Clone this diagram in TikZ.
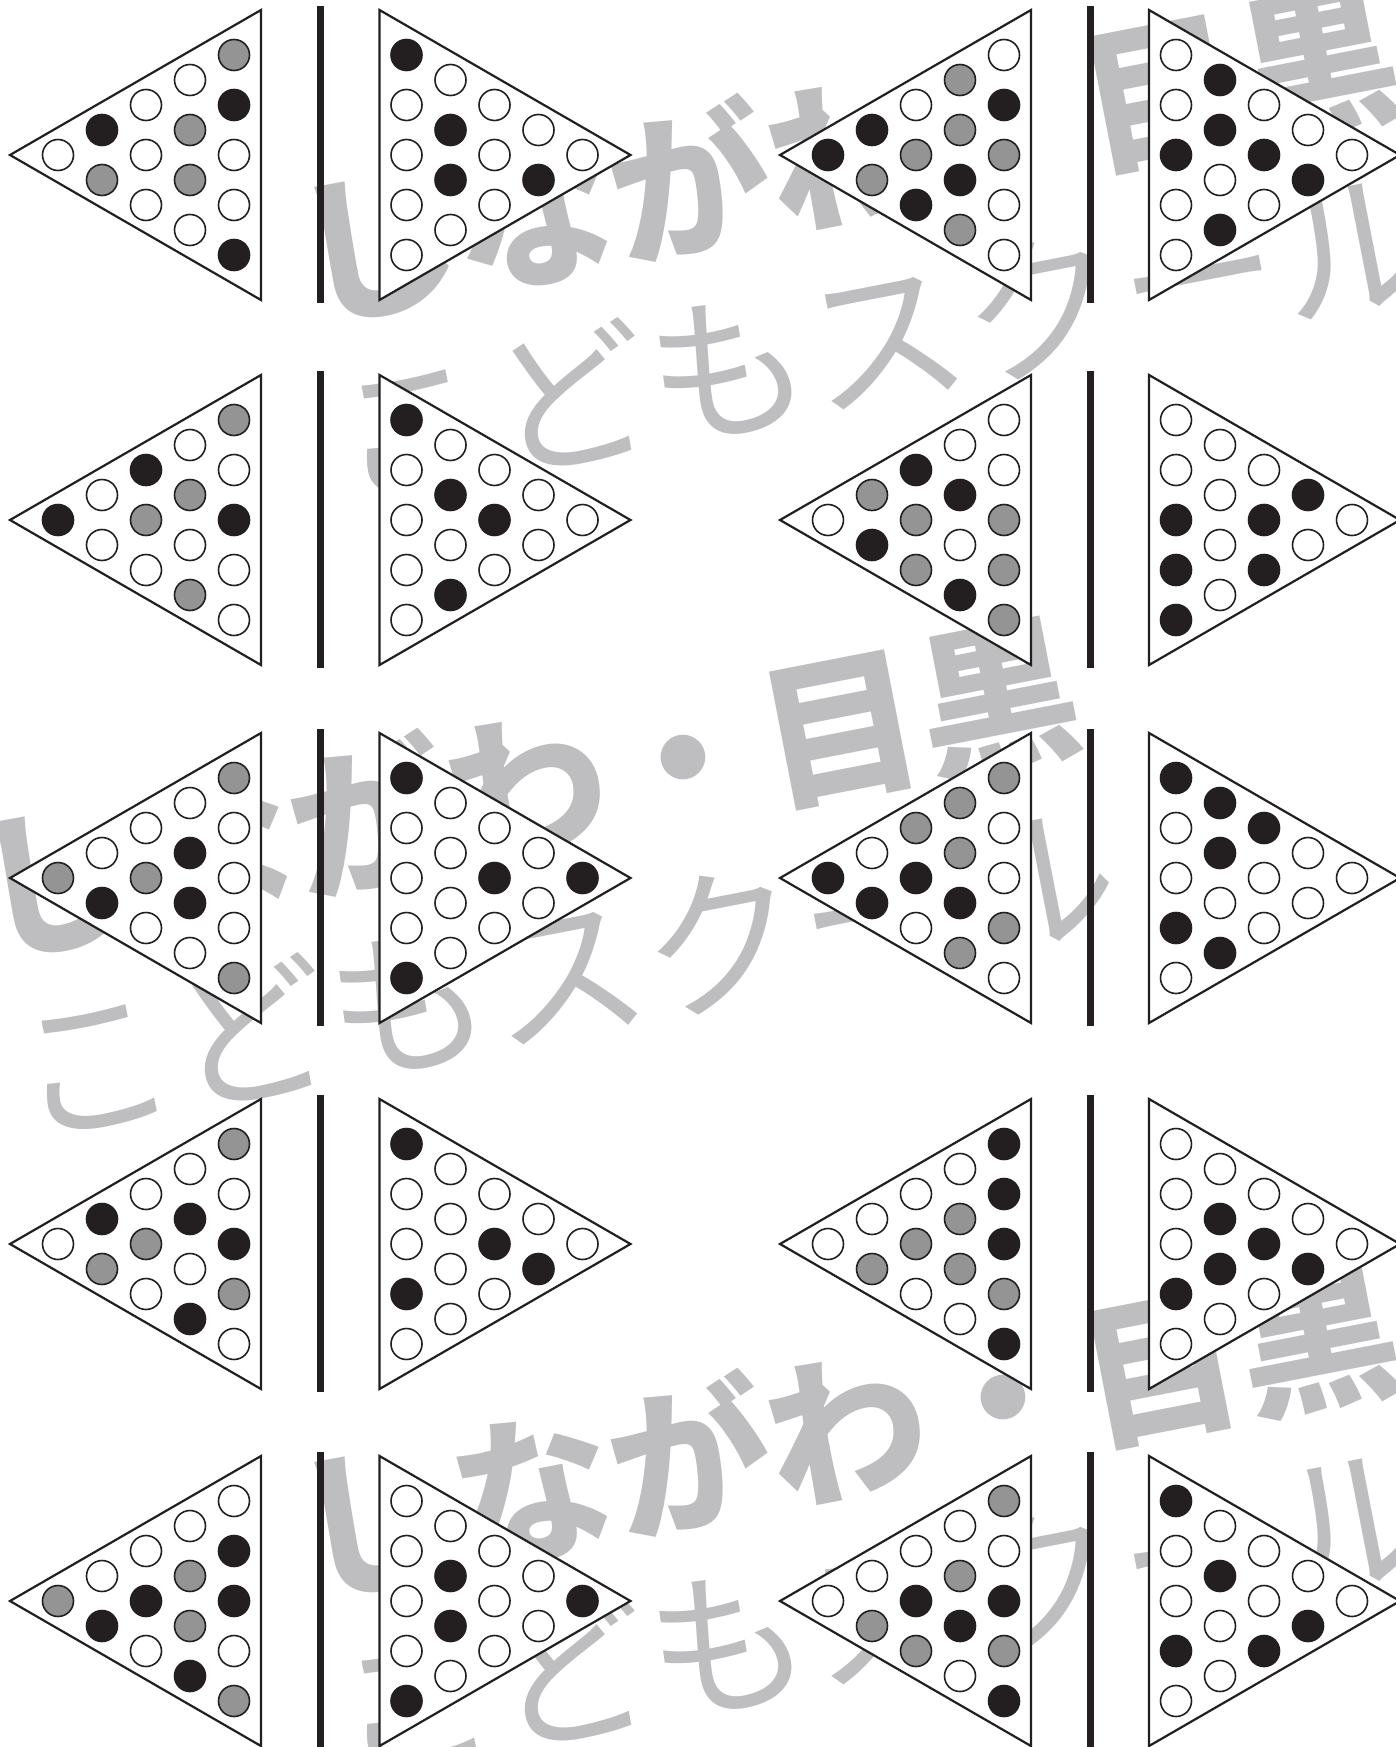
\documentclass[tikz,border=0pt]{standalone}
\usepackage{fontspec}
\newfontfamily\wmfont{Noto Sans CJK JP}
\definecolor{B}{HTML}{231F20}
\definecolor{G}{HTML}{949494}
\definecolor{W}{HTML}{FFFFFF}
\definecolor{wmgray}{HTML}{BEBEC0}

\newcommand{\dotcol}[4]{%
  \foreach \cc [count=\i] in {#4} {
    \path[dot, fill=\cc] ({#1}, {#2 + (2*\i - #3 - 1)*25}) circle[radius=15.5];
  }%
}
\newcommand{\lefttri}[7]{%
  \draw[tri] ({#1},{#2-145}) -- ({#1},{#2+145}) -- ({#1-251},{#2}) -- cycle;
  \dotcol{#1-203}{#2}{1}{#3}%
  \dotcol{#1-159}{#2}{2}{#4}%
  \dotcol{#1-115}{#2}{3}{#5}%
  \dotcol{#1-71}{#2}{4}{#6}%
  \dotcol{#1-27}{#2}{5}{#7}%
}
\newcommand{\righttri}[7]{%
  \draw[tri] ({#1},{#2-145}) -- ({#1},{#2+145}) -- ({#1+251},{#2}) -- cycle;
  \dotcol{#1+27}{#2}{5}{#3}%
  \dotcol{#1+71}{#2}{4}{#4}%
  \dotcol{#1+115}{#2}{3}{#5}%
  \dotcol{#1+159}{#2}{2}{#6}%
  \dotcol{#1+203}{#2}{1}{#7}%
}
\newcommand{\pegbar}[2]{\fill[B] ({#1-3.5},{#2-149}) rectangle ({#1+3.5},{#2+148});}

\begin{document}
\begin{tikzpicture}[x=1pt,y=-1pt,
  tri/.style={draw=B, line width=2.2pt, fill=white, line join=miter},
  dot/.style={draw=B, line width=1.6pt},
  wmA/.style={text=wmgray, font=\fontsize{160}{160}\wmfont\bfseries, inner sep=0pt, rotate=11},
  wmB/.style={text=wmgray, font=\fontsize{160}{160}\wmfont, inner sep=0pt, rotate=11}]
\useasboundingbox (0,0) rectangle (1396,1747);
\fill[white] (0,0) rectangle (1396,1747);
% watermark
\foreach \dx/\dy/\k in {0/0/1, -320/635/2, 0/1275/3} {
  \node[wmA] (wmtop\k) at ({846+\dx},{152+\dy}) {しながわ・目黒};
  \node[wmB] (wmbot\k) at ({884+\dx},{336+\dy}) {こどもスクール};
}
% row 1
\lefttri{261}{155}{W}{B,G}{W,W,W}{W,G,G,W}{G,B,W,W,B}
\pegbar{320}{155}
\righttri{379.5}{155}{B,W,W,W,W}{W,B,B,W}{W,W,W}{W,B}{W}
\lefttri{1031}{155}{B}{B,G}{W,G,B}{G,G,B,G}{W,B,G,W,W}
\pegbar{1090}{155}
\righttri{1149}{155}{W,W,B,W,W}{B,B,W,B}{W,B,W}{W,B}{W}
% row 2
\lefttri{261}{520}{B}{W,W}{B,G,W}{W,G,W,G}{G,W,B,W,W}
\pegbar{320}{520}
\righttri{379.5}{520}{B,W,W,W,W}{W,B,W,B}{W,B,W}{W,W}{W}
\lefttri{1031}{520}{W}{G,B}{B,G,G}{W,B,W,B}{W,W,G,G,G}
\pegbar{1090}{520}
\righttri{1149}{520}{W,W,B,B,B}{W,W,W,W}{W,B,B}{B,W}{W}
% row 3
\lefttri{261}{878}{G}{W,B}{W,G,W}{W,B,B,W}{G,W,W,W,G}
\pegbar{320}{878}
\righttri{379.5}{878}{B,W,W,W,B}{W,W,W,W}{W,B,W}{W,W}{B}
\lefttri{1031}{878}{B}{W,B}{G,B,W}{G,G,B,G}{G,W,W,G,W}
\pegbar{1090}{878}
\righttri{1149}{878}{B,W,W,B,W}{B,B,W,B}{B,W,W}{W,W}{W}
% row 4
\lefttri{261}{1244}{W}{B,G}{W,G,W}{W,B,W,B}{G,W,B,G,W}
\pegbar{320}{1244}
\righttri{379.5}{1244}{B,W,W,B,W}{W,W,W,W}{W,B,W}{W,B}{W}
\lefttri{1031}{1244}{W}{W,G}{W,G,W}{W,G,G,W}{B,B,B,G,B}
\pegbar{1090}{1244}
\righttri{1149}{1244}{W,W,W,B,W}{W,B,B,W}{W,B,W}{W,B}{W}
% row 5
\lefttri{261}{1601}{G}{W,B}{W,B,W}{W,G,G,B}{W,B,B,W,G}
\pegbar{320}{1601}
\righttri{379.5}{1601}{W,W,W,W,B}{W,B,B,W}{W,W,W}{W,W}{B}
\lefttri{1031}{1601}{W}{W,G}{W,B,G}{W,G,B,W}{G,W,B,G,B}
\pegbar{1090}{1601}
\righttri{1149}{1601}{B,W,W,B,W}{W,B,W,W}{W,W,B}{W,B}{W}
\end{tikzpicture}
\end{document}
